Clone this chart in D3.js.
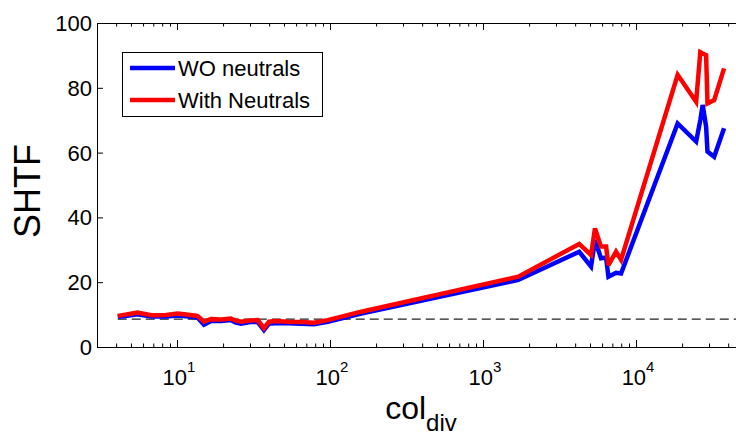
<!DOCTYPE html>
<html><head><meta charset="utf-8">
<script src="https://cdn.jsdelivr.net/npm/d3@7"></script>
<style>
body{margin:0;background:#fff}
svg{display:block}
text{font-family:"Liberation Sans",Arial,Helvetica,sans-serif;fill:#000}
</style>
</head><body>
<svg id="chart" width="736" height="435"></svg>
<script>
// col_div values (x, log scale)
const colDiv = [4.1, 4.6, 5.5, 6.8, 8.5, 10.1, 11.5, 13.6, 15.0, 16.7, 19.5, 22.5, 24, 26.2, 30, 33.7, 37.0, 39.9, 45, 52.9, 65, 78.6, 96.5, 160, 1700, 4250, 5080, 5390, 5900, 6370, 6600, 7400, 7980, 18700, 24700, 26300, 27250, 28700, 29300, 32400, 37600];
// SHTF without neutrals
const woNeutrals = [9.3, 9.6, 10.1, 9.4, 9.4, 9.7, 9.5, 9.1, 6.9, 8.0, 8.0, 8.3, 7.6, 7.2, 7.7, 7.7, 5.2, 7.2, 7.4, 7.3, 7.2, 7.0, 7.8, 10.3, 20.7, 29.4, 24.8, 33.0, 27.4, 27.6, 21.7, 22.9, 22.7, 69.0, 63.4, 70.0, 74.7, 68.0, 60.3, 58.7, 67.5];
// SHTF with neutrals
const withNeutrals = [9.6, 10.0, 10.6, 9.8, 9.9, 10.3, 10.0, 9.6, 7.8, 8.6, 8.5, 8.8, 8.2, 7.8, 8.2, 8.3, 5.8, 7.8, 8.0, 7.8, 7.7, 7.5, 8.3, 10.9, 21.7, 31.8, 28.4, 36.6, 31.0, 31.0, 25.3, 29.4, 26.9, 84.0, 75.7, 91.0, 90.6, 90.1, 75.2, 76.2, 86.0];
// reference level (dashed)
const refLevel = 8.6;
const refRange = [4.1, 50000];

const yTicks = [0, 20, 40, 60, 80, 100];
const xMajorExp = [1, 2, 3, 4];
const seriesNames = ["WO neutrals", "With Neutrals"];
const seriesColors = ["#0000ff", "#ff0000"];

const svg = d3.select("#chart");
const L = 97, R = 743, T = 23, B = 347;

const x = d3.scaleLog().domain([3, 50000]).range([L, R]);
const y = d3.scaleLinear().domain([0, 100]).range([B, T]);

// minor ticks: 2..9 of every decade inside the domain
const minorTicks = [];
for (let e = 0; e <= 4; e++) for (let m = 2; m <= 9; m++) {
  const v = m * Math.pow(10, e);
  if (v >= 3 && v <= 50000) minorTicks.push(v);
}
const majorTicks = xMajorExp.map(e => Math.pow(10, e));

const axG = svg.append("g").attr("class", "axes");

function styleAxis(g) {
  g.selectAll(".domain").attr("stroke", "#000").attr("stroke-width", 1);
  g.selectAll(".tick line").attr("stroke", "#000").attr("stroke-width", 1);
  g.selectAll(".tick text").remove();
}

// bottom axis, ticks pointing inward
axG.append("g").attr("transform", `translate(0,${B})`)
  .call(d3.axisBottom(x).tickValues(minorTicks).tickSizeInner(-3.5).tickSizeOuter(0).tickFormat(""))
  .call(styleAxis);
axG.append("g").attr("transform", `translate(0,${B})`)
  .call(d3.axisBottom(x).tickValues(majorTicks).tickSizeInner(-7).tickSizeOuter(0).tickFormat(""))
  .call(styleAxis);
// top axis
axG.append("g").attr("transform", `translate(0,${T})`)
  .call(d3.axisTop(x).tickValues(minorTicks).tickSizeInner(-3.5).tickSizeOuter(0).tickFormat(""))
  .call(styleAxis);
axG.append("g").attr("transform", `translate(0,${T})`)
  .call(d3.axisTop(x).tickValues(majorTicks).tickSizeInner(-7).tickSizeOuter(0).tickFormat(""))
  .call(styleAxis);
// left axis
axG.append("g").attr("transform", `translate(${L},0)`)
  .call(d3.axisLeft(y).tickValues(yTicks).tickSizeInner(-6).tickSizeOuter(0).tickFormat(""))
  .call(styleAxis);

// y tick labels
svg.append("g").selectAll("text").data(yTicks).join("text")
  .attr("x", L - 5).attr("y", d => y(d) + 8)
  .attr("text-anchor", "end").attr("font-size", 22)
  .text(d => d);

// x tick labels: 10^n
const xl = svg.append("g").selectAll("text").data(xMajorExp).join("text")
  .attr("x", d => x(Math.pow(10, d)) + 2).attr("y", 385)
  .attr("text-anchor", "middle").attr("font-size", 22);
xl.append("tspan").text("10");
xl.append("tspan").attr("font-size", 15).attr("dy", -13).text(d => d);

// axis titles
svg.append("text")
  .attr("transform", `translate(40,${(T + B) / 2 + 6}) rotate(-90)`)
  .attr("text-anchor", "middle").attr("font-size", 36).text("SHTF");
const xt = svg.append("text").attr("x", 421).attr("y", 419).attr("text-anchor", "middle").attr("font-size", 32);
xt.append("tspan").text("col");
xt.append("tspan").attr("font-size", 24).attr("dy", 12).text("div");

// clip to plot area
svg.append("clipPath").attr("id", "plotClip").append("rect")
  .attr("x", L).attr("y", T).attr("width", R - L).attr("height", B - T);
const plot = svg.append("g").attr("clip-path", "url(#plotClip)");

// dashed reference line
plot.append("line")
  .attr("x1", x(refRange[0])).attr("x2", x(refRange[1]))
  .attr("y1", y(refLevel)).attr("y2", y(refLevel))
  .attr("stroke", "#222").attr("stroke-width", 1.3)
  .attr("stroke-dasharray", "9,5");

const line = d3.line().x((d, i) => x(colDiv[i])).y(d => y(d));
[woNeutrals, withNeutrals].forEach((s, k) => {
  plot.append("path").datum(s)
    .attr("d", line)
    .attr("fill", "none")
    .attr("stroke", seriesColors[k])
    .attr("stroke-width", 4.5)
    .attr("stroke-linejoin", "miter")
    .attr("stroke-miterlimit", 3);
});

// legend
const lg = svg.append("g");
lg.append("rect").attr("x", 122.5).attr("y", 52.5).attr("width", 200).attr("height", 64)
  .attr("fill", "#fff").attr("stroke", "#000").attr("stroke-width", 1);
seriesNames.forEach((n, k) => {
  const yy = 68 + k * 32;
  lg.append("line").attr("x1", 130).attr("x2", 175).attr("y1", yy).attr("y2", yy)
    .attr("stroke", seriesColors[k]).attr("stroke-width", 4.5);
  lg.append("text").attr("x", 178).attr("y", yy + 8).attr("font-size", 22).text(n);
});
</script>
</body></html>
